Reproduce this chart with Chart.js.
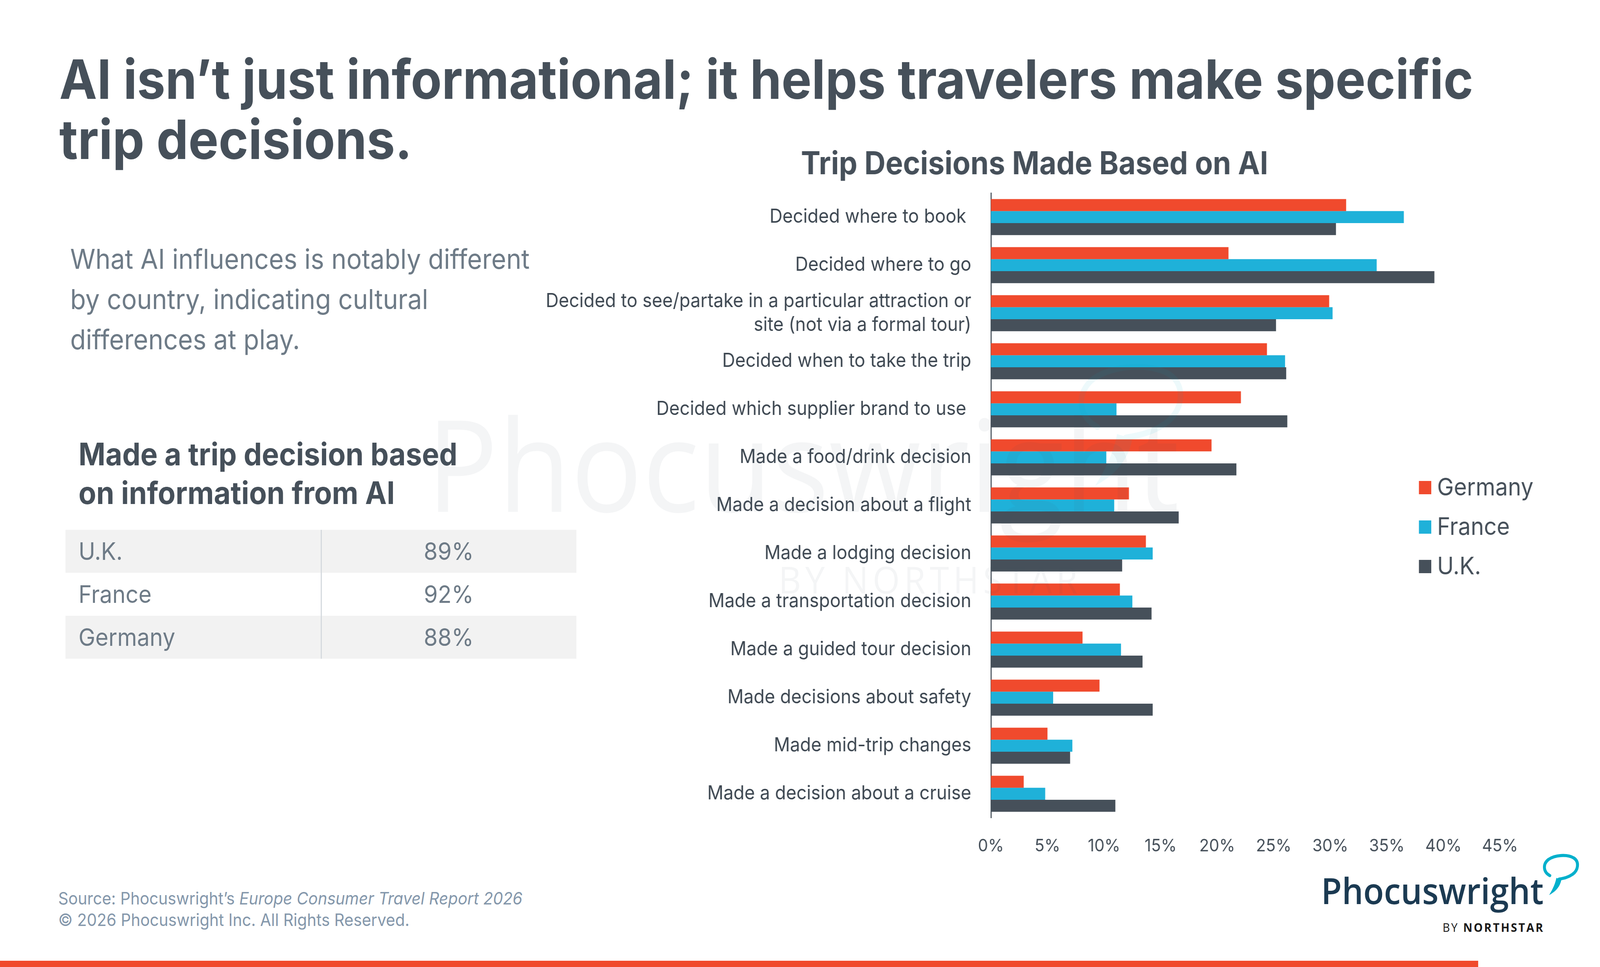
<!DOCTYPE html>
<html>
<head>
<meta charset="utf-8">
<script src="https://cdn.jsdelivr.net/npm/chart.js@4.4.1/dist/chart.umd.min.js"></script>
<style>
html,body{margin:0;padding:0;background:#fff;overflow:hidden;}
body{font-family:Inter,'Open Sans',sans-serif;}
#stage{position:absolute;left:0;top:0;width:4400px;height:2475px;overflow:hidden;transform-origin:0 0;background:#fff;}
.t{position:absolute;white-space:pre;line-height:1.2;margin:0;left:0;top:0;}
#chart{position:absolute;left:1400px;top:300px;}
.wm{pointer-events:none;}
</style>
</head>
<body>
<div id="stage">
<div class="t" id="t1" style="font-weight:700;color:#46505a">AI isn’t just informational; it helps travelers make specific</div>
<div class="t" id="t2" style="font-weight:700;color:#46505a">trip decisions.</div>

<div class="t" id="p1" style="color:#6e7b87">What AI influences is notably different</div>
<div class="t" id="p2" style="color:#6e7b87">by country, indicating cultural</div>
<div class="t" id="p3" style="color:#6e7b87">differences at play.</div>

<div class="t" id="h1" style="font-weight:700;color:#46505a">Made a trip decision based</div>
<div class="t" id="h2" style="font-weight:700;color:#46505a">on information from AI</div>

<div id="tbl"></div>

<div class="t" id="f1" style="color:#8497ab">Source: Phocuswright’s <i>Europe Consumer Travel Report 2026</i></div>
<div class="t" id="f2" style="color:#8497ab">© 2026 Phocuswright Inc. All Rights Reserved.</div>

<div class="t" id="logo" style="font-family:'Open Sans',sans-serif;font-weight:600;color:#1b3a52">Phocuswright</div>
<div class="t" id="bn" style="font-family:'Open Sans',sans-serif;color:#1a1a1a;letter-spacing:0.12em">BY <b>NORTHSTAR</b></div>
<svg style="position:absolute;left:4200px;top:2160px" width="180" height="180" viewBox="0 0 180 180">
  <path d="M62,81 C44,72 42,52 58,40 C76,28 110,26 128,36 C144,46 140,68 124,78 C112,86 100,88 88,90" fill="none" stroke="#00b0cc" stroke-width="8" stroke-linecap="round"/>
  <path d="M80,87 L94,91 C90,110 78,122 60,131 C70,116 77,102 80,87 Z" fill="#00b0cc"/>
</svg>
<div style="position:absolute;left:0;top:2459px;width:4065px;height:16px;background:#f04a2d"></div>

<canvas id="chart" width="2890" height="1950"></canvas>

<div class="t wm" id="wm1" style="font-family:'Open Sans',sans-serif;font-weight:500;color:rgba(70,80,95,0.06)">Phocuswright</div>
<div class="t wm" id="wm2" style="font-family:'Open Sans',sans-serif;color:rgba(70,80,95,0.06);letter-spacing:0.12em">BY NORTHSTAR</div>
<svg class="wm" style="position:absolute;left:2832px;top:850px" width="540" height="540" viewBox="0 0 180 180">
  <g opacity="0.07">
  <path d="M62,81 C44,72 42,52 58,40 C76,28 110,26 128,36 C144,46 140,68 124,78 C112,86 100,88 88,90" fill="none" stroke="#00b0cc" stroke-width="5" stroke-linecap="round"/>
  <path d="M80,87 L94,91 C90,110 78,122 60,131 C70,116 77,102 80,87 Z" fill="#00b0cc"/>
  </g>
</svg>
</div>

<script>
// ---------------- data ----------------
const categories = [
  'Decided where to book ',
  'Decided where to go',
  ['Decided to see/partake in a particular attraction or', 'site (not via a formal tour)'],
  'Decided when to take the trip',
  'Decided which supplier brand to use ',
  'Made a food/drink decision',
  'Made a decision about a flight',
  'Made a lodging decision',
  'Made a transportation decision',
  'Made a guided tour decision',
  'Made decisions about safety',
  'Made mid-trip changes',
  'Made a decision about a cruise'
];
const seriesNames = ['Germany', 'France', 'U.K.'];
const germany = [31.4, 21.0, 29.9, 24.4, 22.1, 19.5, 12.2, 13.7, 11.4, 8.1, 9.6, 5.0, 2.9];
const france  = [36.5, 34.1, 30.2, 26.0, 11.1, 10.2, 10.9, 14.3, 12.5, 11.5, 5.5, 7.2, 4.8];
const uk      = [30.5, 39.2, 25.2, 26.1, 26.2, 21.7, 16.6, 11.6, 14.2, 13.4, 14.3, 7.0, 11.0];
const xTickValues = [0, 5, 10, 15, 20, 25, 30, 35, 40, 45];
const tableCountries = ['U.K.', 'France', 'Germany'];
const tableValues = ['89%', '92%', '88%'];
const chartTitle = 'Trip Decisions Made Based on AI';

// ---------------- styles ----------------
const palette = ['#f04a2d', '#1fb1d9', '#46505a'];
const FAM = 'Inter, "Open Sans", sans-serif';
const TEXT = '#46505a';

// ---------------- HTML text helpers ----------------
function fitEl(el, w) {
  el.style.fontSize = '100px';
  const r = el.getBoundingClientRect().width;
  const s = 100 * w / r;
  el.style.fontSize = s + 'px';
  return s;
}
function place(el, x, b, cx) {
  el.style.left = '0px'; el.style.top = '0px';
  const m = document.createElement('span');
  m.style.cssText = 'display:inline-block;width:0;height:0;vertical-align:baseline;';
  el.appendChild(m);
  const off = m.getBoundingClientRect().top - el.getBoundingClientRect().top;
  m.remove();
  if (cx !== undefined) x = cx - el.getBoundingClientRect().width / 2;
  el.style.left = x + 'px';
  el.style.top = (b - off) + 'px';
}
const $ = id => document.getElementById(id);

const tbl = $('tbl');
tableCountries.forEach((c, i) => {
  const top = 1356 + i * 110;
  const row = document.createElement('div');
  row.style.cssText = `position:absolute;left:180px;top:${top}px;width:1405px;height:110px;background:${i % 2 === 0 ? '#f2f2f2' : '#ffffff'}`;
  tbl.appendChild(row);
});
const sep = document.createElement('div');
sep.style.cssText = 'position:absolute;left:882px;top:1356px;width:3px;height:330px;background:#d3d8dd';
tbl.appendChild(sep);
const rowEls = [], valEls = [];
tableCountries.forEach((c, i) => {
  const a = document.createElement('div'); a.className = 't'; a.style.color = '#6e7b87'; a.textContent = c;
  const v = document.createElement('div'); v.className = 't'; v.style.color = '#6e7b87'; v.textContent = tableValues[i];
  tbl.appendChild(a); tbl.appendChild(v); rowEls.push(a); valEls.push(v);
});

function layoutText() {
  let s = fitEl($('t1'), 3889); $('t2').style.fontSize = s + 'px';
  place($('t1'), 163, 253); place($('t2'), 163, 407);
  s = fitEl($('p1'), 1264); $('p2').style.fontSize = s + 'px'; $('p3').style.fontSize = s + 'px';
  place($('p1'), 193, 688); place($('p2'), 193, 791); place($('p3'), 193, 894);
  s = fitEl($('h1'), 1042); $('h2').style.fontSize = s + 'px';
  place($('h1'), 216, 1191); place($('h2'), 216, 1290);
  s = fitEl(rowEls[2], 266);
  rowEls.forEach((e, i) => { e.style.fontSize = s + 'px'; place(e, 216, 1433 + i * 110); });
  valEls.forEach((e, i) => { e.style.fontSize = s + 'px'; place(e, 0, 1433 + i * 110, 1234); });
  s = fitEl($('f1'), 1277); $('f2').style.fontSize = s + 'px';
  place($('f1'), 160, 2315); place($('f2'), 160, 2370);
  fitEl($('logo'), 612); place($('logo'), 3633, 2314);
  fitEl($('bn'), 280); place($('bn'), 3967, 2385);
  fitEl($('wm1'), 2070); place($('wm1'), 1173, 1310);
  fitEl($('wm2'), 834); place($('wm2'), 2141, 1519);
}

// ---------------- chart ----------------
const mctx = document.createElement('canvas').getContext('2d');
function fitSize(text, weight, target) {
  mctx.font = `${weight} 100px ${FAM}`;
  return 100 * target / mctx.measureText(text).width;
}

function buildChart() {
  const CT = 300, CL = 1400, CW = 2890, CH = 1950;
  const AREA = {left: 2725, right: 4125, top: 494, bottom: 2093};
  const TITLE_CX = 2845, TITLE_CY = 422;
  const labelSize = fitSize('Decided where to book', 400, 541);
  const tickSize = fitSize('45%', 400, 99);
  const titleSize = fitSize(chartTitle, 700, 1285);
  const legendSize = fitSize('France', 400, 200);

  const titleAndLegend = {
    id: 'titleAndLegend',
    afterDraw(chart) {
      const {ctx, chartArea} = chart;
      ctx.save();
      // chart title
      ctx.fillStyle = TEXT;
      ctx.font = `700 ${titleSize}px ${FAM}`;
      ctx.textAlign = 'center';
      ctx.textBaseline = 'middle';
      ctx.fillText(chartTitle, TITLE_CX - CL, TITLE_CY - CT);
      // legend built from datasets
      chart.data.datasets.forEach((ds, i) => {
        const cy = chartArea.top + (1248 - AREA.top) + i * 101;
        const x0 = chartArea.left + (3902 - AREA.left);
        ctx.fillStyle = ds.backgroundColor;
        ctx.fillRect(x0, cy - 17, 34, 34);
        ctx.fillStyle = TEXT;
        ctx.font = `400 ${legendSize}px ${FAM}`;
        ctx.textBaseline = 'middle';
        ctx.textAlign = 'left';
        ctx.fillText(ds.label, x0 + 50, cy + 1);
      });
      ctx.restore();
    }
  };

  const seriesData = [germany, france, uk];
  new Chart(document.getElementById('chart'), {
    type: 'bar',
    data: {
      labels: categories,
      datasets: seriesNames.map((n, i) => ({
        label: n,
        data: seriesData[i],
        backgroundColor: palette[i],
        borderWidth: 0,
        categoryPercentage: 0.75,
        barPercentage: 1.0
      }))
    },
    plugins: [titleAndLegend],
    options: {
      indexAxis: 'y',
      responsive: false,
      animation: false,
      devicePixelRatio: 1,
      layout: {padding: {left: 0, right: (CL + CW) - AREA.right, top: AREA.top - CT, bottom: 0}},
      plugins: {
        legend: {display: false},
        tooltip: {enabled: false},
        title: {display: false}
      },
      scales: {
        y: {
          type: 'category',
          grid: {display: false},
          border: {display: true, color: '#46505a', width: 3},
          ticks: {
            color: '#3e4852',
            padding: 46,
            autoSkip: false,
            font: {family: FAM, size: labelSize, weight: '400', lineHeight: 1.24}
          },
          afterFit: s => { s.width = AREA.left - CL; }
        },
        x: {
          type: 'linear',
          min: xTickValues[0],
          max: xTickValues[xTickValues.length - 1],
          grid: {display: false},
          border: {display: false},
          afterBuildTicks: s => { s.ticks = xTickValues.map(v => ({value: v})); },
          ticks: {
            color: TEXT,
            padding: 65 - 0.6 * tickSize,
            autoSkip: false,
            maxRotation: 0,
            font: {family: FAM, size: tickSize, weight: '400', lineHeight: 1.2},
            callback: v => v + '%'
          },
          afterFit: s => { s.height = (CT + CH) - AREA.bottom; }
        }
      }
    }
  });
}

layoutText();
buildChart();
// the window may be narrower than the 4400x2475 design: fit the slide to it
(function fitStage() {
  const sx = window.innerWidth / 4400, sy = window.innerHeight / 2475;
  if (Math.abs(sx - 1) > 0.001 || Math.abs(sy - 1) > 0.001) {
    $('stage').style.transform = `scale(${sx}, ${sy})`;
  }
})();
</script>
</body>
</html>
